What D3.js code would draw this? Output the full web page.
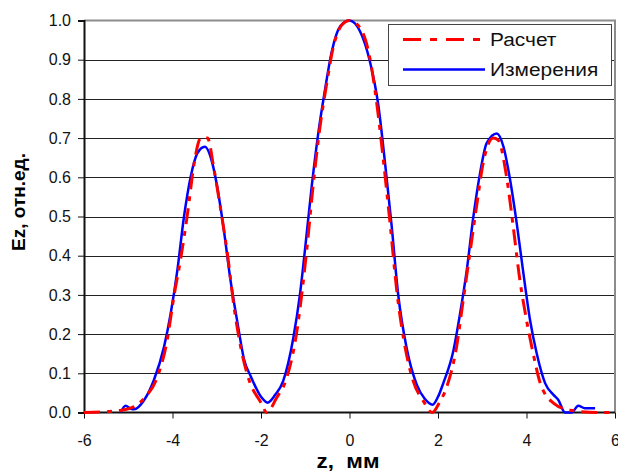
<!DOCTYPE html>
<html>
  <head>
    <meta charset="UTF-8">
    <title>Ez</title>
    <script src="https://cdnjs.cloudflare.com/ajax/libs/d3/7.8.5/d3.min.js"></script>
    <style>
      body { margin: 0; background: #fff; font-family: "Liberation Sans", Arial, sans-serif; }
    </style>
  </head>
  <body>
    <script>
      // расчет (red, dash-dot)
      var zCalc = [-6.0, -5.5, -5.2, -4.87, -4.61, -4.34, -4.12, -3.97, -3.82, -3.66, -3.51, -3.36, -3.21, -3.06,
                   -2.91, -2.76, -2.61, -2.46, -2.27, -2.0, -1.87, -1.65, -1.42, -1.19, -1.08, -0.97, -0.82, -0.67,
                   -0.52, -0.37, -0.17, 0, 0.24, 0.46, 0.61, 0.76, 0.92, 1.07, 1.22, 1.44, 1.67, 1.87, 2.03, 2.20,
                   2.42, 2.57, 2.72, 2.87, 3.02, 3.25, 3.36, 3.55, 3.70, 3.85, 4.0, 4.15, 4.31, 4.61, 4.98, 5.6, 6.0];
      var eCalc = [0, 0.002, 0.005, 0.015, 0.04, 0.091, 0.185, 0.295, 0.389, 0.508, 0.636, 0.70, 0.70, 0.619,
                   0.517, 0.406, 0.27, 0.168, 0.083, 0.025, 0.0, 0.037, 0.088, 0.207, 0.301, 0.411, 0.581, 0.726,
                   0.836, 0.930, 0.989, 1.0, 0.981, 0.904, 0.794, 0.649, 0.479, 0.309, 0.190, 0.080, 0.029, 0.0, 0.025, 0.066,
                   0.168, 0.287, 0.406, 0.525, 0.636, 0.70, 0.695, 0.601, 0.474, 0.338, 0.236, 0.151, 0.075, 0.024, 0.006, 0, 0];

      // измерения (blue, solid)
      var zMeas = [-5.17, -5.06, -4.95, -4.87, -4.64, -4.42, -4.19, -4.04, -3.89, -3.74, -3.59, -3.44, -3.27, -3.10,
                   -2.99, -2.84, -2.69, -2.53, -2.38, -2.23, -2.0, -1.85, -1.68, -1.50, -1.27, -1.12, -1.01, -0.85,
                   -0.71, -0.56, -0.40, -0.21, 0, 0.24, 0.46, 0.65, 0.80, 0.95, 1.10, 1.29, 1.52, 1.70, 1.88, 2.0,
                   2.12, 2.35, 2.50, 2.65, 2.80, 2.95, 3.10, 3.33, 3.48, 3.63, 3.78, 3.93, 4.08, 4.23, 4.42, 4.61,
                   4.72, 4.87, 5.02, 5.17, 5.32, 5.55];
      var eMeas = [0, 0.017, 0.01, 0.008, 0.032, 0.083, 0.168, 0.253, 0.363, 0.5, 0.601, 0.661, 0.678, 0.636,
                   0.576, 0.466, 0.338, 0.228, 0.134, 0.092, 0.04, 0.025, 0.045, 0.080, 0.190, 0.301, 0.411, 0.581,
                   0.709, 0.819, 0.921, 0.985, 1.0, 0.972, 0.896, 0.785, 0.64, 0.479, 0.301, 0.165, 0.071, 0.035, 0.02, 0.04,
                   0.075, 0.159, 0.253, 0.363, 0.5, 0.610, 0.687, 0.712, 0.678, 0.593, 0.482, 0.355, 0.236, 0.151, 0.075, 0.045,
                   0.032, 0, 0, 0.017, 0.011, 0.011];

      var xTicks = [-6, -4, -2, 0, 2, 4, 6];
      var yTicks = [0, 0.1, 0.2, 0.3, 0.4, 0.5, 0.6, 0.7, 0.8, 0.9, 1.0];
      var seriesNames = ["Расчет", "Измерения"];

      var width = 618, height = 472;
      var pLeft = 84, pRight = 615, pTop = 20.5, pBottom = 412.5;

      var svg = d3.select("body").append("svg")
        .attr("width", width)
        .attr("height", height)
        .style("font-family", "'Liberation Sans', Arial, sans-serif");

      var x = d3.scaleLinear().domain([-6, 6]).range([pLeft, pRight]);
      var y = d3.scaleLinear().domain([0, 1]).range([pBottom, pTop]);

      // gridlines
      svg.append("g").selectAll("line")
        .data(yTicks.slice(1, -1))
        .enter().append("line")
        .attr("x1", pLeft).attr("x2", pRight)
        .attr("y1", function (d) { return Math.round(y(d)) + 0.5; })
        .attr("y2", function (d) { return Math.round(y(d)) + 0.5; })
        .style("stroke", "#222")
        .style("stroke-width", 1);

      // plot border (top/right grey)
      svg.append("path")
        .attr("d", "M" + pLeft + "," + pTop + "H" + pRight + "V" + pBottom)
        .style("fill", "none")
        .style("stroke", "#8c8c8c")
        .style("stroke-width", 2);

      // axes
      var yAxis = svg.append("g")
        .attr("transform", "translate(" + pLeft + ",0)")
        .call(d3.axisLeft(y).tickValues(yTicks).tickFormat(d3.format(".1f")).tickSize(6).tickPadding(7));
      var xAxis = svg.append("g")
        .attr("transform", "translate(0," + pBottom + ")")
        .call(d3.axisBottom(x).tickValues(xTicks).tickFormat(function (d) { return d; }).tickSize(6).tickPadding(16));

      [yAxis, xAxis].forEach(function (a) {
        a.attr("font-family", null).attr("font-size", null);
        a.select(".domain").style("stroke", "#111").style("stroke-width", 2);
        a.selectAll(".tick line").style("stroke", "#111");
        a.selectAll("text")
          .style("font-size", "16px")
          .style("fill", "#111");
      });
      xAxis.select(".domain").attr("d", "M" + pLeft + ",0H" + pRight);

      // lines
      var line = d3.line()
        .x(function (d) { return x(d[0]); })
        .y(function (d) { return y(d[1]); })
        .curve(d3.curveMonotoneX);

      var measPts = d3.zip(zMeas, eMeas);
      var calcPts = d3.zip(zCalc, eCalc);

      svg.append("path")
        .datum(measPts)
        .attr("d", line)
        .style("fill", "none")
        .style("stroke", "#0000ff")
        .style("stroke-width", 2.5);

      svg.append("path")
        .datum(calcPts)
        .attr("d", line)
        .style("fill", "none")
        .style("stroke", "#ff0000")
        .style("stroke-width", 3)
        .style("stroke-dasharray", "16,7,5,7");

      // axis titles
      svg.append("text")
        .attr("transform", "translate(348,468) scale(1.12,1)")
        .attr("text-anchor", "middle")
        .style("font-size", "20px")
        .style("font-weight", "bold")
        .style("white-space", "pre")
        .text("z,  мм");

      svg.append("text")
        .attr("transform", "translate(25,202) rotate(-90)")
        .attr("text-anchor", "middle")
        .style("font-size", "19px")
        .style("font-weight", "bold")
        .text("Ez, отн.ед.");

      // legend
      var lg = svg.append("g");
      lg.append("rect")
        .attr("x", 388.5).attr("y", 24.5)
        .attr("width", 223).attr("height", 61)
        .style("fill", "#fff")
        .style("stroke", "#444")
        .style("stroke-width", 1);

      lg.append("line")
        .attr("x1", 403).attr("x2", 480).attr("y1", 39.5).attr("y2", 39.5)
        .style("stroke", "#ff0000").style("stroke-width", 3)
        .style("stroke-dasharray", "18,9,7,9");
      lg.append("line")
        .attr("x1", 403).attr("x2", 485).attr("y1", 69.5).attr("y2", 69.5)
        .style("stroke", "#0000ff").style("stroke-width", 2.5);

      lg.selectAll(".lbl")
        .data(seriesNames)
        .enter().append("text")
        .attr("class", "lbl")
        .attr("transform", function (d, i) { return "translate(490," + (46 + i * 29.5) + ") scale(1.16,1)"; })
        .style("font-size", "18px")
        .style("fill", "#111")
        .text(function (d) { return d; });
    </script>
  </body>
</html>
